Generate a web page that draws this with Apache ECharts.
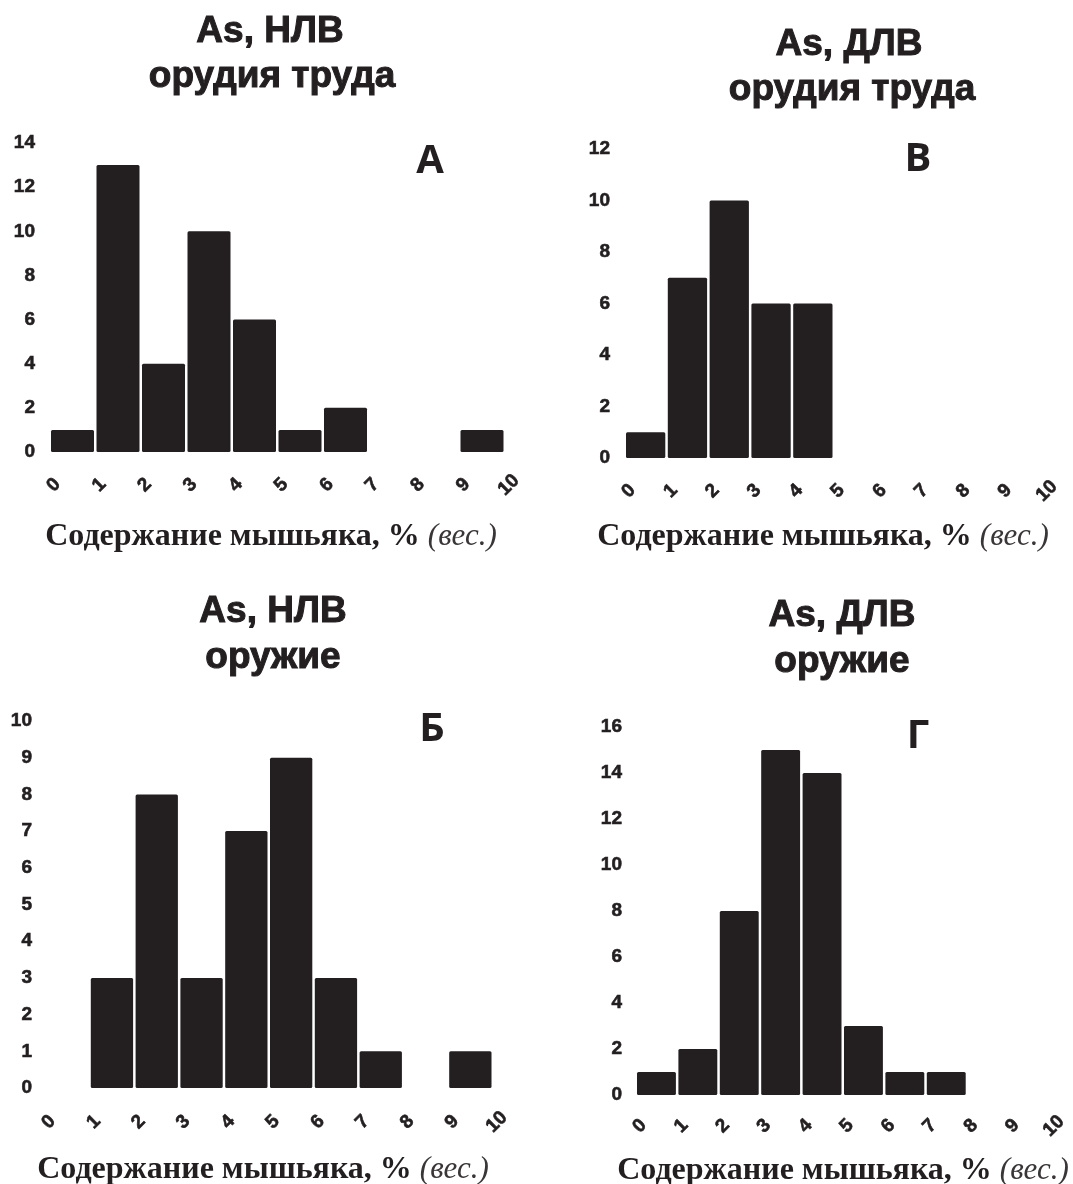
<!DOCTYPE html>
<html>
<head>
<meta charset="utf-8">
<script src="https://cdn.jsdelivr.net/npm/echarts@6/dist/echarts.min.js"></script>
<style>
  html, body { margin: 0; padding: 0; background: #ffffff; }
  #chart { width: 1073px; height: 1184px; }
</style>
</head>
<body>
<div id="chart"></div>
<script>
// Arsenic content bins (% by weight): bin i spans [i, i+1)
const binEdges = [0, 1, 2, 3, 4, 5, 6, 7, 8, 9, 10];

// Number of artefacts per bin
const countsToolsNLV = [1, 13, 4, 10, 6, 1, 2, 0, 0, 1];   // А
const countsToolsDLV = [1, 7, 10, 6, 6, 0, 0, 0, 0, 0];    // В
const countsWeaponsNLV = [0, 3, 8, 3, 7, 9, 3, 1, 0, 1];   // Б
const countsWeaponsDLV = [1, 2, 8, 15, 14, 3, 1, 1, 0, 0]; // Г

// Y-axis ranges per panel
const yMaxes = [14, 12, 10, 16];
const yIntervals = [2, 2, 1, 2];

const panelTitles = [
  ['As, НЛВ', 'орудия труда'],
  ['As, ДЛВ', 'орудия труда'],
  ['As, НЛВ', 'оружие'],
  ['As, ДЛВ', 'оружие']
];
const panelLetters = ['А', 'В', 'Б', 'Г'];
const axisTitle = 'Содержание мышьяка, %';
const axisTitleUnit = '(вес.)';

const INK = '#231f20';
const tickFont = {
  fontFamily: '"Liberation Sans", Arial, sans-serif', fontWeight: 'bold', fontSize: 19, color: INK,
  textBorderColor: INK, textBorderWidth: 0.6
};

const grids = [
  { left: 50, top: 143, width: 455, height: 309 },
  { left: 625, top: 149, width: 418, height: 309 },
  { left: 45, top: 721, width: 448, height: 367 },
  { left: 636, top: 727, width: 414, height: 368 }
];
const yLabelMargins = [15, 15, 13, 14];
const xLabelMargins = [37, 37, 38, 35];

const allCounts = [countsToolsNLV, countsToolsDLV, countsWeaponsNLV, countsWeaponsDLV];

function renderBin(params, api) {
  const i = api.value(0);
  const v = api.value(1);
  if (!v) return null;
  const top = api.coord([i, v]);
  const base = api.coord([i + 1, 0]);
  return {
    type: 'rect',
    shape: { x: top[0] + 1, y: top[1], width: base[0] - top[0] - 2.5, height: base[1] - top[1], r: 1.5 },
    style: { fill: INK }
  };
}

const xAxes = grids.map((g, k) => ({
  gridIndex: k, type: 'value', min: binEdges[0], max: binEdges[binEdges.length - 1], interval: 1,
  axisLine: { show: false }, axisTick: { show: false }, splitLine: { show: false },
  axisLabel: Object.assign({ rotate: 45, align: 'center', verticalAlign: 'middle', margin: xLabelMargins[k],
    padding: [11, 0, 0, 11], showMinLabel: true, showMaxLabel: true, hideOverlap: false }, tickFont)
}));

const yAxes = grids.map((g, k) => ({
  gridIndex: k, type: 'value', min: 0, max: yMaxes[k], interval: yIntervals[k],
  axisLine: { show: false }, axisTick: { show: false }, splitLine: { show: false },
  axisLabel: Object.assign({ margin: yLabelMargins[k] }, tickFont)
}));

const series = allCounts.map((counts, k) => ({
  type: 'custom', xAxisIndex: k, yAxisIndex: k,
  renderItem: renderBin,
  encode: { x: 0, y: 1 },
  data: counts.map((c, i) => [binEdges[i], c]),
  silent: true
}));

// Titles, panel letters and x-axis captions
const titleFont = 'bold 37px "Liberation Sans", Arial, sans-serif';
const titlePos = [
  [[270, 32], [272, 77]],
  [[849, 45], [852, 90]],
  [[273, 612], [273, 658]],
  [[842, 616], [842, 662]]
];
const letterPos = [[430, 162], [918, 160], [432, 730], [918, 737]];
const captionPos = [[271, 537], [823, 537], [263, 1170], [843, 1171]];

const graphics = [];
panelTitles.forEach((lines, k) => {
  lines.forEach((line, j) => {
    graphics.push({
      type: 'text', x: titlePos[k][j][0], y: titlePos[k][j][1],
      style: { text: line, font: titleFont, fill: INK, stroke: INK, lineWidth: 1,
        align: 'center', verticalAlign: 'middle' }
    });
  });
  graphics.push({
    type: 'text', x: letterPos[k][0], y: letterPos[k][1],
    style: { text: panelLetters[k], font: 'bold 40px "Open Sans", "Liberation Sans", sans-serif', fill: INK, align: 'center', verticalAlign: 'middle' }
  });
  graphics.push({
    type: 'text', x: captionPos[k][0], y: captionPos[k][1],
    style: {
      text: '{b|' + axisTitle + '}{s| }{i|' + axisTitleUnit + '}',
      align: 'center', verticalAlign: 'middle', fill: INK,
      rich: {
        b: { font: 'bold 32px "Liberation Serif", "Times New Roman", serif', fill: INK },
        s: { font: '32px "Liberation Serif", serif', width: 8 },
        i: { font: 'italic 31px "Liberation Serif", "Times New Roman", serif', fill: '#3a3637' }
      }
    }
  });
});

const chart = echarts.init(document.getElementById('chart'), null, { renderer: 'canvas' });
chart.setOption({
  backgroundColor: '#ffffff',
  animation: false,
  grid: grids.map(g => Object.assign({ containLabel: false }, g)),
  xAxis: xAxes,
  yAxis: yAxes,
  series: series,
  graphic: graphics
});
</script>
</body>
</html>
